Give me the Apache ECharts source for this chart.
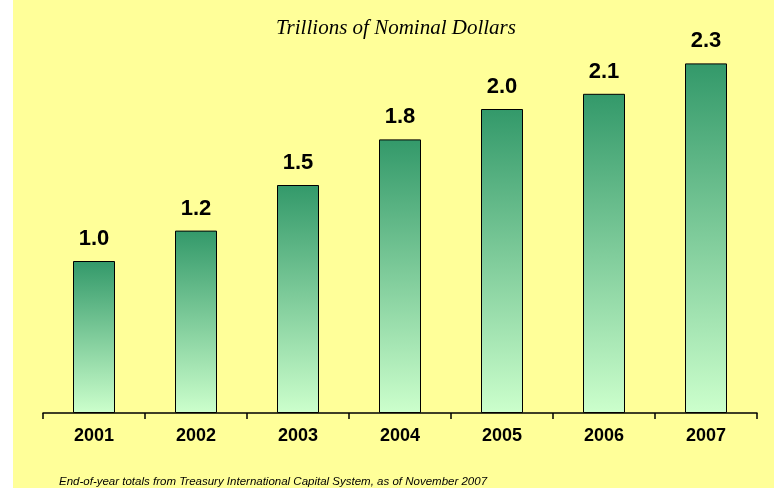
<!DOCTYPE html>
<html>
<head>
<meta charset="utf-8">
<script src="https://cdn.jsdelivr.net/npm/echarts@6/dist/echarts.min.js"></script>
<style>
  html, body { margin: 0; padding: 0; background: #ffffff; }
  #chart { width: 774px; height: 488px; }
</style>
</head>
<body>
<div id="chart"></div>
<script>
// Foreign holdings, end of year (trillions of nominal dollars)
const years = ['2001', '2002', '2003', '2004', '2005', '2006', '2007'];
const holdings = [1.0, 1.2, 1.5, 1.8, 2.0, 2.1, 2.3];
const titleText = 'Trillions of Nominal Dollars';
const noteText = 'End-of-year totals from Treasury International Capital System, as of November 2007';

const chart = echarts.init(document.getElementById('chart'), null, { renderer: 'canvas' });

const barFill = new echarts.graphic.LinearGradient(0, 0, 0, 1, [
  { offset: 0, color: '#33996a' },
  { offset: 1, color: '#ccffcc' }
]);

chart.setOption({
  animation: false,
  backgroundColor: 'transparent',
  graphic: [
    {
      type: 'rect', z: -10, silent: true,
      shape: { x: 13, y: 0, width: 761, height: 488 },
      style: { fill: '#ffff99' }
    },
    {
      type: 'text', x: 396, y: 28,
      style: {
        text: titleText, fill: '#000', align: 'center', verticalAlign: 'middle',
        font: 'italic 21px "Liberation Serif", "Times New Roman", serif'
      }
    },
    {
      type: 'text', x: 59, y: 482,
      style: {
        text: noteText, fill: '#000', align: 'left', verticalAlign: 'middle',
        font: 'italic 11.5px "Liberation Sans", Arial, sans-serif'
      }
    }
  ],
  grid: { left: 43, right: 17, top: 33, bottom: 75 },
  xAxis: {
    type: 'category',
    data: years,
    axisLine: { show: true, lineStyle: { color: '#000', width: 1.5 } },
    axisTick: { show: true, interval: 0, length: 6, lineStyle: { color: '#000', width: 1.5 } },
    axisLabel: {
      margin: 14, color: '#000', fontSize: 18, fontWeight: 'bold',
      fontFamily: '"Liberation Sans", Arial, sans-serif'
    }
  },
  yAxis: {
    type: 'value', min: 0, max: 2.5, show: false,
    splitLine: { show: false }
  },
  series: [{
    type: 'bar',
    data: holdings,
    barWidth: 42,
    itemStyle: { color: barFill, borderColor: '#000', borderWidth: 1 },
    label: {
      show: true, position: 'top', distance: 11,
      formatter: p => p.value.toFixed(1),
      color: '#000', fontSize: 22, fontWeight: 'bold',
      fontFamily: '"Liberation Sans", Arial, sans-serif'
    }
  }]
});
</script>
</body>
</html>
